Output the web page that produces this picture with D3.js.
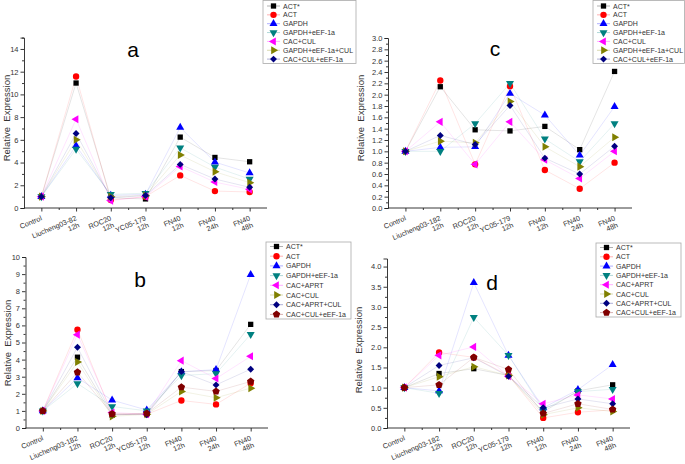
<!DOCTYPE html>
<html>
<head>
<meta charset="utf-8">
<script src="https://cdn.jsdelivr.net/npm/d3@7"></script>
<style>
html,body{margin:0;padding:0;background:#fff;}
svg{display:block;font-family:Arial,"Liberation Sans",sans-serif;}
</style>
</head>
<body>
<svg id="chart" width="685" height="464"></svg>
<script>
// ---------------- DATA ----------------
const categoriesA = ["Control","Liucheng03-82\n12h","ROC20\n12h","YC05-179\n12h","FN40\n12h","FN40\n24h","FN40\n48h"];
const categoriesBCD = ["Control","Liucheng03-182\n12h","ROC20\n12h","YC05-179\n12h","FN40\n12h","FN40\n24h","FN40\n48h"];

const seriesAC = ["ACT*","ACT","GAPDH","GAPDH+eEF-1a","CAC+CUL","GAPDH+eEF-1a+CUL","CAC+CUL+eEF-1a"];
const seriesBD = ["ACT*","ACT","GAPDH","GAPDH+eEF-1a","CAC+APRT","CAC+CUL","CAC+APRT+CUL","CAC+CUL+eEF-1a"];

const valuesA = [
  [1, 11.0, 0.9, 0.8, 6.24, 4.45, 4.07],
  [1, 11.57, 0.7, 1.0, 2.87, 1.49, 1.41],
  [1, 5.48, 1.1, 1.2, 7.09, 4.04, 3.08],
  [1, 5.18, 1.2, 1.3, 5.3, 3.6, 2.55],
  [1, 7.82, 0.65, 1.0, 3.66, 2.28, 1.64],
  [1, 6.0, 1.0, 1.1, 4.66, 3.19, 2.23],
  [1, 6.56, 0.9, 1.1, 3.84, 2.55, 1.82]
];
const valuesC = [
  [1, 2.14, 1.38, 1.36, 1.44, 1.03, 2.41],
  [1, 2.25, 0.77, 2.15, 0.67, 0.34, 0.80],
  [1, 1.07, 1.08, 2.02, 1.64, 0.93, 1.79],
  [1, 1.00, 1.49, 2.20, 1.22, 0.82, 1.49],
  [1, 1.52, 0.77, 1.52, 0.85, 0.52, 1.00],
  [1, 1.18, 1.15, 1.88, 1.08, 0.73, 1.25],
  [1, 1.28, 1.12, 1.81, 0.88, 0.60, 1.09]
];
const valuesB = [
  [1, 4.14, 0.75, 0.85, 3.30, 3.36, 6.06],
  [1, 5.75, 0.80, 0.80, 1.61, 1.38, 2.62],
  [1, 2.93, 1.63, 1.05, 3.28, 3.42, 8.97],
  [1, 2.60, 1.26, 1.00, 3.07, 3.18, 5.48],
  [1, 5.46, 0.91, 0.80, 3.94, 2.89, 4.19],
  [1, 3.86, 0.68, 0.80, 2.14, 1.77, 2.33],
  [1, 4.72, 0.80, 0.78, 3.30, 2.52, 3.44],
  [1, 3.26, 0.83, 0.85, 2.39, 2.14, 2.72]
];
const valuesD = [
  [1, 1.35, 1.47, 1.30, 0.40, 0.92, 1.07],
  [1, 1.87, 1.75, 1.30, 0.25, 0.39, 0.45],
  [1, 0.92, 3.60, 1.80, 0.50, 0.95, 1.57],
  [1, 0.86, 2.74, 1.80, 0.45, 0.90, 0.96],
  [1, 1.80, 2.01, 1.28, 0.60, 0.82, 0.72],
  [1, 1.27, 1.52, 1.30, 0.33, 0.50, 0.41],
  [1, 1.55, 1.74, 1.28, 0.50, 0.72, 0.60],
  [1, 1.07, 1.75, 1.45, 0.36, 0.60, 0.46]
];

const yTicksA = [0,2,4,6,8,10,12,14];
const yTicksB = [0,1,2,3,4,5,6,7,8,9,10];
const yTicksC = [0,0.2,0.4,0.6,0.8,1.0,1.2,1.4,1.6,1.8,2.0,2.2,2.4,2.6,2.8,3.0];
const yTicksD = [0,0.5,1.0,1.5,2.0,2.5,3.0,3.5,4.0];

const colors = ["#000000","#FF0000","#0000FF","#008080","#FF00FF","#808000","#000080","#800000"];

// ---------------- SYMBOLS ----------------
const pentagon = {
  draw(ctx, size) {
    const r = Math.sqrt(size / 2.378);
    for (let i = 0; i < 5; i++) {
      const a = -Math.PI/2 + i * 2*Math.PI/5;
      const x = r*Math.cos(a), y = r*Math.sin(a);
      if (i === 0) ctx.moveTo(x, y); else ctx.lineTo(x, y);
    }
    ctx.closePath();
  }
};
const symbolDefs = [
  {type: d3.symbolSquare, rot: 0, size: 28},
  {type: d3.symbolCircle, rot: 0, size: 32},
  {type: d3.symbolTriangle, rot: 0, size: 28},
  {type: d3.symbolTriangle, rot: 180, size: 28},
  {type: d3.symbolTriangle, rot: -90, size: 28},
  {type: d3.symbolTriangle, rot: 90, size: 28},
  {type: d3.symbolSquare, rot: 45, size: 24},
  {type: pentagon, rot: 0, size: 36}
];

// ---------------- LAYOUT ----------------
const svg = d3.select("#chart");

const panels = [
  {title:"a", cats:categoriesA, series:seriesAC, values:valuesA, yMax:15, ticks:yTicksA, minor:1, fmt:d3.format("d"),
   x0:24, x1:267, yTop:37.6, yBot:208, tx:133, ty:49, ylx:6, yly:118,
   leg:{x:263, y:0.5, w:93, h:63, first:6, step:8.85}},
  {title:"c", cats:categoriesBCD, series:seriesAC, values:valuesC, yMax:3, ticks:yTicksC, minor:0.1, fmt:d3.format(".1f"),
   x0:388, x1:632, yTop:38, yBot:208, tx:495, ty:48, ylx:360, yly:118,
   leg:{x:593, y:0.5, w:91.5, h:63, first:6, step:8.85}},
  {title:"b", cats:categoriesBCD, series:seriesBD, values:valuesB, yMax:10, ticks:yTicksB, minor:0.5, fmt:d3.format("d"),
   x0:25.5, x1:268, yTop:257, yBot:428, tx:140, ty:279, ylx:7, yly:343,
   leg:{x:266, y:242, w:85, h:77, first:246.5, step:9.7}},
  {title:"d", cats:categoriesBCD, series:seriesBD, values:valuesD, yMax:4.2, ticks:yTicksD, minor:0.25, fmt:d3.format(".1f"),
   x0:387, x1:630, yTop:258.5, yBot:428, tx:492, ty:282, ylx:358, yly:350,
   leg:{x:596, y:243, w:85, h:74, first:247.5, step:9.3}}
];

function sym(i) {
  const d = symbolDefs[i];
  return d3.symbol().type(d.type).size(d.size)();
}

panels.forEach(p => {
  const g = svg.append("g");
  const x = d3.scalePoint().domain(p.cats).range([p.x0, p.x1]).padding(0.5);
  const y = d3.scaleLinear().domain([0, p.yMax]).range([p.yBot, p.yTop]);

  // lines
  p.values.forEach((vals, si) => {
    const line = d3.line().x((d,i) => x(p.cats[i])).y(d => y(d));
    g.append("path").attr("d", line(vals))
      .attr("fill","none").attr("stroke", colors[si])
      .attr("stroke-opacity", 0.12).attr("stroke-width", 0.9);
  });

  // y axis
  const yAxis = d3.axisLeft(y).tickValues(p.ticks).tickFormat(p.fmt).tickSize(3.5).tickPadding(2);
  const ya = g.append("g").attr("transform", `translate(${p.x0},0)`).call(yAxis);
  const minorVals = d3.range(0, p.yMax + 1e-9, p.minor).filter(v => !p.ticks.some(t => Math.abs(t - v) < 1e-9));
  const ym = g.append("g").attr("transform", `translate(${p.x0},0)`)
    .call(d3.axisLeft(y).tickValues(minorVals).tickFormat("").tickSize(2));
  ym.select(".domain").remove();

  // x axis
  const xAxis = d3.axisBottom(x).tickSize(3.5).tickFormat("");
  const xa = g.append("g").attr("transform", `translate(0,${p.yBot})`).call(xAxis);
  xa.select(".domain").attr("d", `M${p.x0},0H${p.x1}`);
  const step = x.step();
  const mids = p.cats.slice(0, -1).map(c => x(c) + step/2);
  const xm = d3.scaleLinear().domain([0,1]).range([0,1]);
  const xmg = g.append("g").attr("transform", `translate(0,${p.yBot})`)
    .call(d3.axisBottom(xm).tickValues(mids).tickFormat("").tickSize(2));
  xmg.select(".domain").remove();

  [ya, ym, xa, xmg].forEach(a => {
    a.selectAll("path,line").attr("stroke","#222").attr("stroke-width",0.9);
    a.selectAll("text").attr("font-size", 7.5).attr("fill","#333").attr("font-family","Arial, 'Liberation Sans', sans-serif");
  });

  // x tick labels (rotated, multi-line, right-aligned)
  p.cats.forEach(c => {
    const lines = c.split("\n");
    const t = g.append("text")
      .attr("transform", `translate(${x(c) + 1},${p.yBot + 12}) rotate(-23)`)
      .attr("text-anchor","end").attr("font-size", 7.2).attr("fill","#333");
    lines.forEach((ln, i) => {
      t.append("tspan").attr("x", 0).attr("dy", i === 0 ? 0 : 7.5).text(ln);
    });
  });

  // y label
  g.append("text")
    .attr("transform", `translate(${p.ylx},${p.yly}) rotate(-90)`)
    .attr("text-anchor","middle").attr("dominant-baseline","central")
    .attr("font-size", 9.5).attr("fill","#333")
    .attr("xml:space","preserve").style("white-space","pre")
    .text("Relative  Expression");

  // title
  g.append("text").attr("x", p.tx).attr("y", p.ty)
    .attr("text-anchor","middle").attr("dominant-baseline","central")
    .attr("font-size", 21).attr("fill","#000").text(p.title);

  // markers
  p.values.forEach((vals, si) => {
    const sd = symbolDefs[si];
    g.selectAll(null).data(vals).enter().append("path")
      .attr("d", sym(si))
      .attr("transform", (d,i) => `translate(${x(p.cats[i])},${y(d)}) rotate(${sd.rot})`)
      .attr("fill", colors[si]);
  });

  // legend
  const L = p.leg;
  const lg = g.append("g");
  lg.append("rect").attr("x", L.x).attr("y", L.y).attr("width", L.w).attr("height", L.h)
    .attr("fill","#fff").attr("stroke","#aaa").attr("stroke-width",0.8);
  p.series.forEach((s, si) => {
    const yy = L.first + si * L.step;
    lg.append("line").attr("x1", L.x + 4).attr("x2", L.x + 17).attr("y1", yy).attr("y2", yy)
      .attr("stroke", colors[si]).attr("stroke-opacity", 0.35).attr("stroke-width", 0.9);
    lg.append("path").attr("d", sym(si))
      .attr("transform", `translate(${L.x + 10.5},${yy}) rotate(${symbolDefs[si].rot})`)
      .attr("fill", colors[si]);
    lg.append("text").attr("x", L.x + 20).attr("y", yy)
      .attr("dominant-baseline","central").attr("font-size", 7).attr("fill","#333").text(s);
  });
});
</script>
</body>
</html>
